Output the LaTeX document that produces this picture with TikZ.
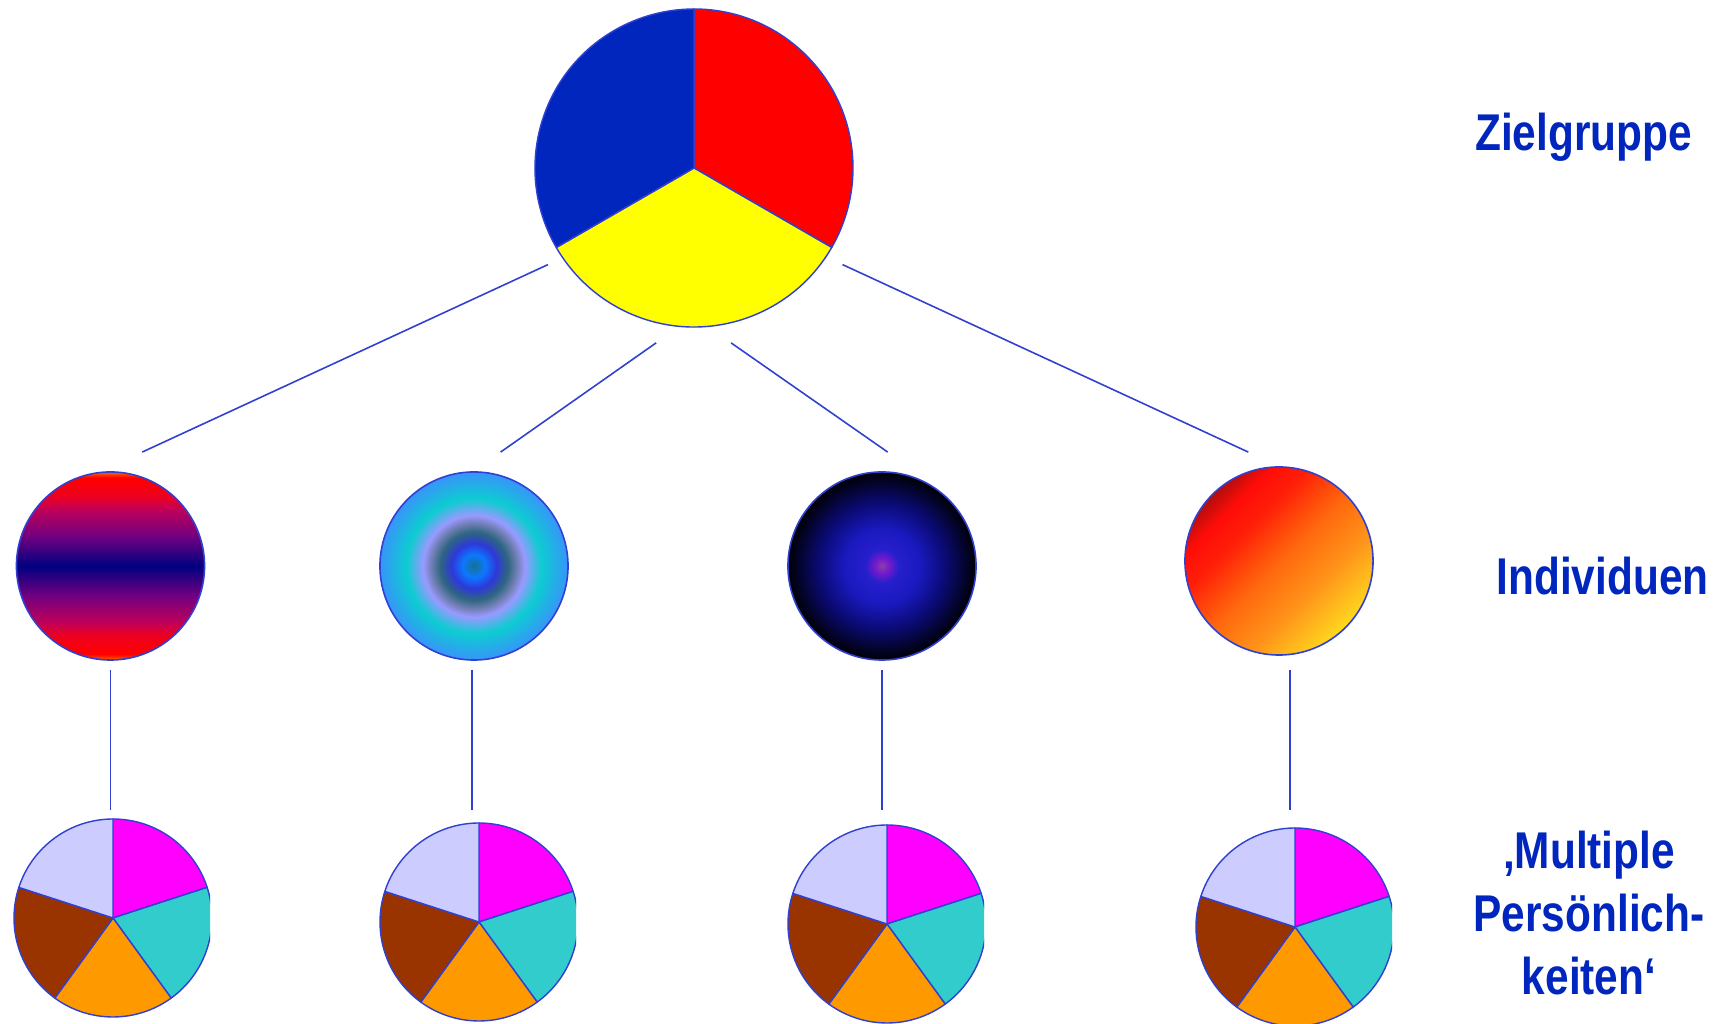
\documentclass[tikz,border=0pt]{standalone}
\usepackage{fontspec}
\setmainfont{Liberation Sans}
\newfontfamily\narrowbold[FakeStretch=0.82]{Liberation Sans Bold}
\usepackage{xcolor}
\usetikzlibrary{positioning}
\definecolor{pieblue}{RGB}{0, 38, 190}
\definecolor{lineblue}{RGB}{48, 64, 208}
\definecolor{lilac}{RGB}{204, 204, 255}
\definecolor{pinkc}{RGB}{255, 0, 255}
\definecolor{tealc}{RGB}{51, 204, 204}
\definecolor{orangec}{RGB}{255, 153, 0}
\definecolor{brownc}{RGB}{153, 51, 0}
\definecolor{yellowc}{RGB}{255, 255, 0}
% shadings for the four individuals
\pgfdeclareverticalshading{redNavy}{100bp}{rgb(0bp)=(1,0.4,0); rgb(25bp)=(1,0.4,0); rgb(26.5bp)=(1,0,0); rgb(31.5bp)=(0.93,0,0.12); rgb(35bp)=(0.75,0,0.35); rgb(42bp)=(0.45,0,0.5); rgb(50bp)=(0,0,0.5); rgb(58bp)=(0.45,0,0.5); rgb(65bp)=(0.75,0,0.35); rgb(68.5bp)=(0.93,0,0.12); rgb(73.5bp)=(1,0,0); rgb(75bp)=(1,0.4,0); rgb(100bp)=(1,0.4,0)}
\pgfdeclareradialshading{rings}{\pgfpoint{0bp}{0bp}}{rgb(0bp)=(0.08,0.45,0.55); rgb(3bp)=(0.05,0.47,1); rgb(6bp)=(0.18,0.22,0.85); rgb(9bp)=(0.18,0.4,0.5); rgb(11.5bp)=(0.45,0.5,0.72); rgb(13.5bp)=(0.6,0.6,1); rgb(18bp)=(0.05,0.8,0.82); rgb(25bp)=(0.22,0.58,0.98); rgb(50bp)=(0.22,0.58,0.98)}
\pgfdeclareradialshading{glow}{\pgfpoint{0bp}{0bp}}{rgb(0bp)=(0.55,0.25,0.65); rgb(2bp)=(0.45,0.1,0.8); rgb(4.5bp)=(0.15,0.12,0.8); rgb(10bp)=(0.1,0.1,0.75); rgb(17bp)=(0.04,0.04,0.45); rgb(25bp)=(0,0,0.02); rgb(50bp)=(0,0,0)}
\pgfdeclareverticalshading{sunset}{100bp}{rgb(0bp)=(1,0.85,0.12); rgb(25bp)=(1,0.85,0.12); rgb(38bp)=(1,0.58,0.1); rgb(50bp)=(1,0.4,0.05); rgb(62bp)=(1,0.12,0.03); rgb(69bp)=(1,0.05,0.03); rgb(75bp)=(0.7,0.05,0.05); rgb(100bp)=(0.7,0.05,0.05)}
\tikzset{
    link/.style={draw=lineblue, line width=0.45pt},
    slice/.style={draw=lineblue, line width=0.4pt, line join=round},
    indiv/.style={circle, draw=lineblue, line width=0.45pt, inner sep=0pt, minimum size=1.88cm},
    lvl/.style={text=pieblue, font=\narrowbold\fontsize{14.7}{17.9}\selectfont, inner sep=0pt, align=center}
}

\begin{document}
\begin{tikzpicture}[x=0.01cm, y=0.01cm]
    \path[fill=white, use as bounding box] (0,0) rectangle (1729,1024);

    % target group
    \coordinate (group) at (694,856);
    \filldraw[slice, fill=red] (group) -- ++(90:159) arc[start angle=90, delta angle=-120, radius=159] -- cycle;
    \filldraw[slice, fill=yellowc] (group) -- ++(-30:159) arc[start angle=-30, delta angle=-120, radius=159] -- cycle;
    \filldraw[slice, fill=pieblue] (group) -- ++(210:159) arc[start angle=210, delta angle=-120, radius=159] -- cycle;

    % individuals
    \node[indiv, shading=redNavy] (ind1) at (110.5,458) {};
    \node[indiv, shading=rings] (ind2) at (474,458) {};
    \node[indiv, shading=glow] (ind3) at (882,458) {};
    \node[indiv, shading=sunset, shading angle=45] (ind4) at (1279,463) {};

    % multiple personalities
    \foreach \cx/\cy/\nm in {113/106/a, 479/102/b, 887/100/c, 1295/97/d} {
        \begin{scope}[shift={(\cx,\cy)}]
            \coordinate (pie\nm) at (0,0);
            \clip (-102,-102) rectangle (97,102);
            \foreach \a/\c in {90/pinkc, 18/tealc, -54/orangec, -126/brownc, -198/lilac}
                \filldraw[slice, fill=\c] (pie\nm) -- ++(\a:99) arc[start angle=\a, delta angle=-72, radius=99] -- cycle;
        \end{scope}
    }

    % connectors
    \coordinate (g1) at (548,759.4);
    \coordinate (g2) at (656.1,681.1);
    \coordinate (g3) at (731.1,681.1);
    \coordinate (g4) at (842.5,759.4);
    \coordinate (i1) at (142.2,571.9);
    \coordinate (i2) at (500.6,571.9);
    \coordinate (i3) at (887.7,571.9);
    \coordinate (i4) at (1248.3,571.9);
    \draw[link] (g1) -- (i1);
    \draw[link] (g2) -- (i2);
    \draw[link] (g3) -- (i3);
    \draw[link] (g4) -- (i4);
    \coordinate (d1) at (110.5,354);
    \coordinate (d2) at (472,354);
    \coordinate (d3) at (882,354);
    \coordinate (d4) at (1290,354);
    \coordinate (p1) at (110.5,213.5);
    \coordinate (p2) at (472,213.5);
    \coordinate (p3) at (882,213.5);
    \coordinate (p4) at (1290,213.5);
    \draw[link] (d1) -- (p1);
    \draw[link] (d2) -- (p2);
    \draw[link] (d3) -- (p3);
    \draw[link] (d4) -- (p4);

    % level labels
    \node[lvl, anchor=base] (zielgruppe) at (1583.5,873.3) {Zielgruppe};
    \node[lvl, anchor=base] (individuen) at (1602.5,429) {Individuen};
    \node[lvl, anchor=north] (multiple) at (1589,194) {‚Multiple\\Persönlich-\\keiten‘};
\end{tikzpicture}
\end{document}
